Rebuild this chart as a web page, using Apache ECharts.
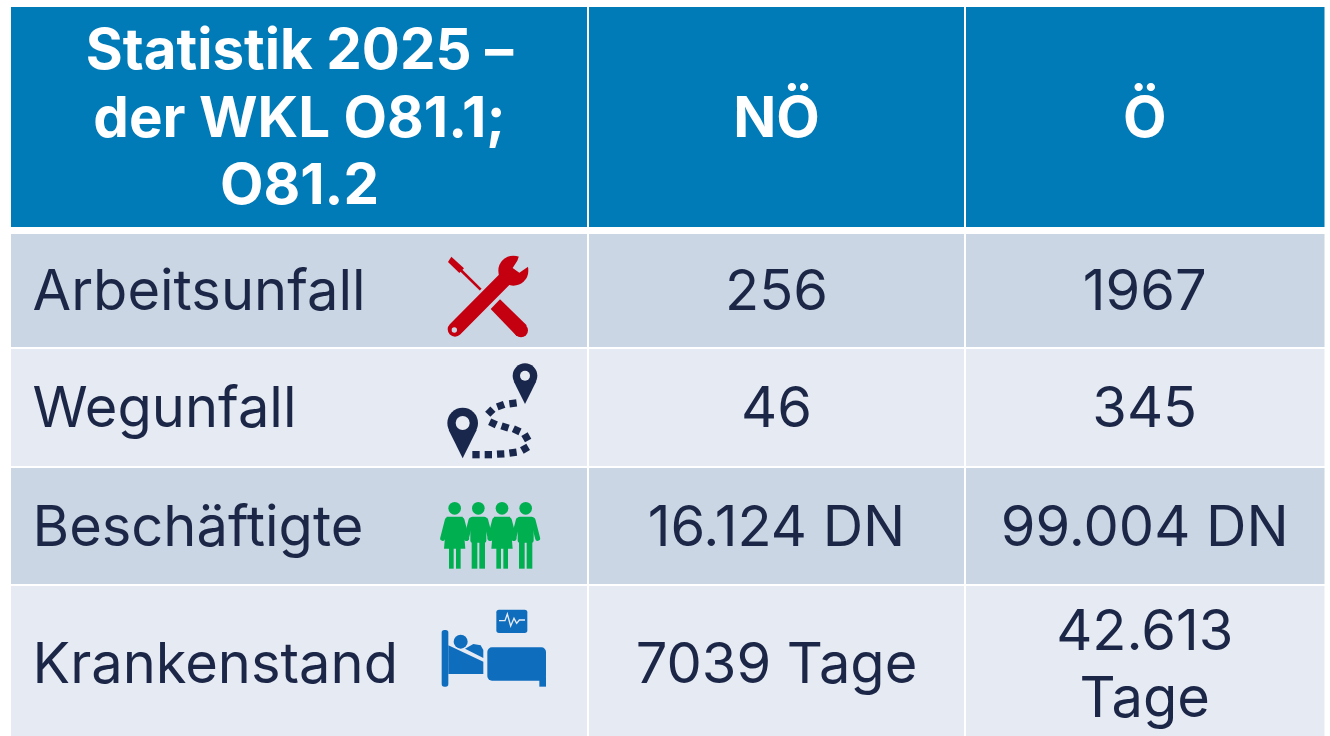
<!DOCTYPE html>
<html>
<head>
<meta charset="utf-8">
<style>
  html, body { margin: 0; padding: 0; background: #fff; }
  #main { width: 1330px; height: 736px; }
</style>
</head>
<body>
<div id="main"></div>
<script src="https://cdn.jsdelivr.net/npm/echarts@6/dist/echarts.min.js"></script>
<script>
// table content
const headerLabels = ['Statistik 2025 –\nder WKL O81.1;\nO81.2', 'NÖ', 'Ö'];
const rowLabels = ['Arbeitsunfall', 'Wegunfall', 'Beschäftigte', 'Krankenstand'];
const valuesNO = ['256', '46', '16.124 DN', '7039 Tage'];
const valuesO = ['1967', '345', '99.004 DN', '42.613\nTage'];
const rowIcons = ['tools', 'route', 'people', 'bed'];

const columnWidths = [577, 377, 359.5];
const rowHeights = [223.5, 117.5, 119, 118, 157];

const HEADER_BLUE = '#017bb8';
const ROW_DARK = '#cbd6e5';
const ROW_LIGHT = '#e6ebf3';
const INK = '#1c2747';
const ROUTE_INK = '#1a274c';
const RED = '#c40010';
const GREEN = '#00b050';
const BED_BLUE = '#0f6dbe';

const poly = (points, fill) => ({ type: 'polygon', shape: { points }, style: { fill } });
const dot = (cx, cy, r, fill) => ({ type: 'circle', shape: { cx, cy, r }, style: { fill } });
const bar = (x, y, width, height, fill, r) => ({ type: 'rect', shape: { x, y, width, height, r: r || 0 }, style: { fill } });
const stroke = (x1, y1, x2, y2, lineWidth, color, cap) => ({
    type: 'line',
    shape: { x1, y1, x2, y2 },
    style: { stroke: color, lineWidth, lineCap: cap || 'butt' }
});
// one dash of the dotted route
const dash = (cx, cy, deg) => {
    const a = deg * Math.PI / 180;
    const dx = Math.cos(a) * 11, dy = Math.sin(a) * 11;
    return stroke(cx - dx, cy - dy, cx + dx, cy + dy, 22, ROUTE_INK);
};

// icons are written in 3x pixels, so they get scaled by 1/3 in renderItem
const icons = {
    tools: [
        poly([[94, 50], [132, 85], [118, 99], [84, 66]], RED),
        stroke(122, 90, 182, 149, 8, RED),
        poly([[240, 178], [320, 256], [290, 288], [212, 207]], RED),
        dot(303, 271, 21, RED),
        stroke(105, 268, 262, 110, 44, RED, 'round'),
        dot(280, 92, 45, RED),
        poly([[300, 40], [340, 70], [322, 82], [298, 98], [278, 84], [292, 62]], ROW_DARK),
        dot(103, 270, 8, ROW_DARK)
    ],
    route: [
        dot(315, 407, 37, ROUTE_INK),
        poly([[281, 424], [349, 424], [315, 492]], ROUTE_INK),
        dot(315, 407, 15, ROW_LIGHT),
        dot(128, 549, 46, ROUTE_INK),
        poly([[86, 570], [170, 570], [128, 655]], ROUTE_INK),
        dot(128, 549, 21, ROW_LIGHT),
        dash(279, 490, -8), dash(242, 497, -20), dash(211, 515, -45),
        dash(219, 550, 25), dash(255, 561, 18), dash(290, 571, 25), dash(319, 592, 60),
        dash(315, 626, -30), dash(279, 638, -8), dash(242, 642, -3), dash(205, 644, 0), dash(168, 644, 0)
    ],
    people: [104, 175, 246, 317].flatMap((cx, i) => {
        const parts = [
            dot(cx, 115, 19, GREEN),
            stroke(cx - 22, 150, cx - 36, 205, 15, GREEN, 'round'),
            stroke(cx + 22, 150, cx + 36, 205, 15, GREEN, 'round')
        ];
        if (i % 2 === 0) {
            parts.push(poly([[cx - 24, 140], [cx + 24, 140], [cx + 32, 236], [cx - 32, 236]], GREEN));
            parts.push(bar(cx - 17, 232, 14, 64, GREEN), bar(cx + 4, 232, 14, 64, GREEN));
        } else {
            parts.push(bar(cx - 24, 140, 48, 78, GREEN, 6));
            parts.push(bar(cx - 20, 212, 17, 84, GREEN), bar(cx + 3, 212, 17, 84, GREEN));
        }
        return parts;
    }),
    bed: [
        bar(65, 480, 20, 170, BED_BLUE, 8),
        poly([[85, 526], [190, 575], [190, 612], [85, 612]], BED_BLUE),
        dot(122, 515, 21, BED_BLUE),
        poly([[135, 536], [160, 522], [182, 526], [190, 540], [190, 564]], BED_BLUE),
        bar(202, 532, 176, 100, BED_BLUE, 14),
        bar(358, 620, 20, 30, BED_BLUE),
        bar(229, 419, 93, 70, BED_BLUE, 8),
        {
            type: 'polyline',
            shape: { points: [[237, 452], [255, 452], [262, 432], [272, 468], [282, 445], [290, 460], [298, 450], [315, 450]] },
            style: { fill: 'none', stroke: ROW_LIGHT, lineWidth: 4 }
        }
    ]
};
// page position of each icon sketch
const iconOrigin = { tools: [420, 240], route: [420, 240], people: [420, 470], bed: [420, 470] };

// one entry per table cell
const cells = [];
headerLabels.forEach((text, col) => cells.push({ col, row: 0, text }));
rowLabels.forEach((text, i) => {
    cells.push({ col: 0, row: i + 1, text, icon: rowIcons[i] });
    cells.push({ col: 1, row: i + 1, text: valuesNO[i] });
    cells.push({ col: 2, row: i + 1, text: valuesO[i] });
});

function renderCell(params, api) {
    const cell = cells[params.dataIndex];
    const layout = api.layout([cell.col, cell.row]);
    const r = layout.rect || layout;
    const isHeader = cell.row === 0;
    const top = r.y + (cell.row === 1 ? 3.5 : cell.row === 0 ? 0 : 1);
    const bottom = r.y + r.height - (isHeader ? 3.5 : 1);
    const fill = isHeader ? HEADER_BLUE : (cell.row % 2 ? ROW_DARK : ROW_LIGHT);
    const isLabel = !isHeader && cell.col === 0;
    const children = [{
        type: 'rect',
        shape: {
            x: r.x + (cell.col ? 1 : 0),
            y: top,
            width: r.width - (cell.col ? 1 : 0) - (cell.col < 2 ? 1 : 0),
            height: bottom - top
        },
        style: { fill }
    }, {
        type: 'text',
        x: isLabel ? r.x + 21.5 : r.x + r.width / 2,
        y: (top + bottom) / 2 + 3,
        style: {
            text: cell.text,
            align: isLabel ? 'left' : 'center',
            verticalAlign: 'middle',
            fill: isHeader ? '#ffffff' : INK,
            font: isHeader ? 'bold 56.5px Inter' : '56px Inter',
            lineHeight: isHeader ? 67.5 : 67
        }
    }];
    if (cell.icon) {
        children.push({
            type: 'group',
            x: iconOrigin[cell.icon][0],
            y: iconOrigin[cell.icon][1],
            scaleX: 1 / 3,
            scaleY: 1 / 3,
            children: icons[cell.icon]
        });
    }
    return { type: 'group', children };
}

const chart = echarts.init(document.getElementById('main'), null, { renderer: 'canvas' });
chart.setOption({
    animation: false,
    backgroundColor: '#ffffff',
    matrix: {
        left: 11,
        top: 7,
        width: columnWidths.reduce((a, b) => a + b, 0),
        height: rowHeights.reduce((a, b) => a + b, 0),
        x: { show: false, data: columnWidths.map((size, i) => ({ value: 'c' + i, size })) },
        y: { show: false, data: rowHeights.map((size, i) => ({ value: 'r' + i, size })) },
        body: { itemStyle: { borderWidth: 0, color: 'transparent' } },
        backgroundStyle: { borderWidth: 0, color: 'transparent' }
    },
    series: [{
        type: 'custom',
        coordinateSystem: 'matrix',
        clip: false,
        data: cells.map(c => [c.col, c.row]),
        renderItem: renderCell
    }]
});
</script>
</body>
</html>
